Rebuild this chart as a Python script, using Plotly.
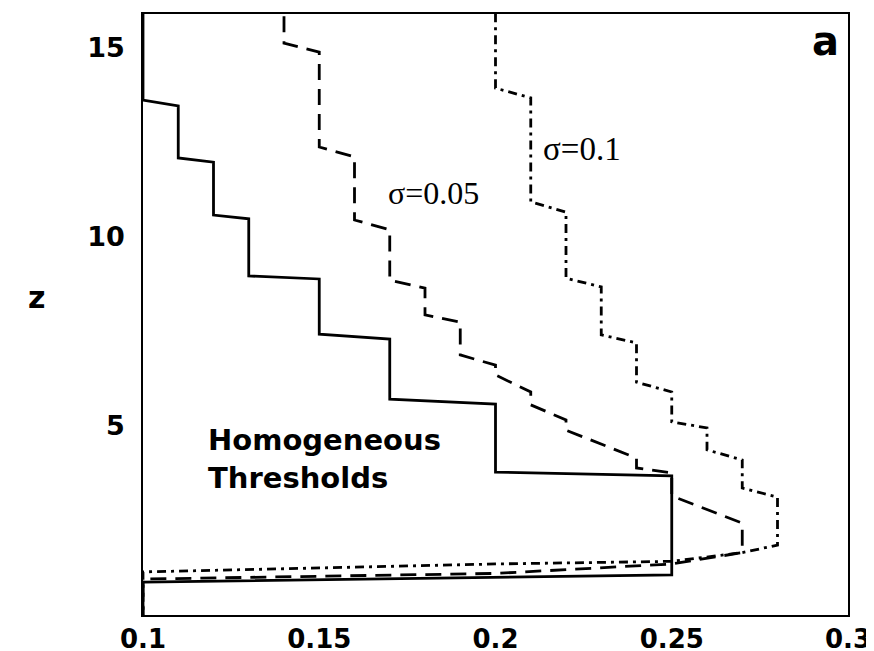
import plotly.graph_objects as go

# Homogeneous thresholds (solid)
x_homog = [0.1, 0.1, 0.11, 0.11, 0.12, 0.12, 0.13, 0.13, 0.15, 0.15, 0.17, 0.17,
           0.2, 0.2, 0.25, 0.25, 0.1, 0.1]
z_homog = [16.5, 13.62, 13.47, 12.09, 11.98, 10.58, 10.48, 8.97, 8.89, 7.43, 7.30, 5.71,
           5.58, 3.78, 3.68, 1.06, 0.87, 0.0]

# sigma = 0.05 (dashed)
x_s005 = [0.14, 0.14, 0.15, 0.15, 0.16, 0.16, 0.17, 0.17, 0.18, 0.18, 0.19, 0.19,
          0.2, 0.2, 0.21, 0.21, 0.22, 0.22, 0.24, 0.24, 0.25, 0.25, 0.27, 0.27,
          0.25, 0.2, 0.1, 0.1]
z_s005 = [16.5, 15.13, 14.89, 12.38, 12.12, 10.45, 10.19, 8.86, 8.65, 7.94, 7.75, 6.88,
          6.61, 6.35, 5.90, 5.56, 5.16, 4.89, 4.15, 3.89, 3.76, 3.15, 2.43, 1.65,
          1.35, 1.10, 0.95, 0.0]

# sigma = 0.1 (dash-dot)
x_s01 = [0.2, 0.2, 0.21, 0.21, 0.22, 0.22, 0.23, 0.23, 0.24, 0.24, 0.25, 0.25,
         0.26, 0.26, 0.27, 0.27, 0.28, 0.28, 0.27, 0.25, 0.2, 0.1, 0.1]
z_s01 = [16.5, 13.94, 13.68, 10.93, 10.66, 8.91, 8.68, 7.41, 7.20, 6.16, 5.90, 5.11,
         4.95, 4.37, 4.10, 3.36, 3.12, 1.85, 1.65, 1.42, 1.35, 1.14, 0.0]

x_ticks = [0.1, 0.15, 0.2, 0.25, 0.3]
x_ticklabels = ["0.1", "0.15", "0.2", "0.25", "0.3"]
z_ticks = [5, 10, 15]
z_ticklabels = ["5", "10", "15"]

fig = go.Figure()
fig.add_trace(go.Scatter(x=x_homog, y=z_homog, mode="lines",
                         line=dict(color="black", width=2.8), name="Homogeneous"))
fig.add_trace(go.Scatter(x=x_s005, y=z_s005, mode="lines",
                         line=dict(color="black", width=2.8, dash="16px,9px"), name="σ=0.05"))
fig.add_trace(go.Scatter(x=x_s01, y=z_s01, mode="lines",
                         line=dict(color="black", width=2.8, dash="9px,5px,3px,5px"), name="σ=0.1"))

tick_font_x = dict(family="DejaVu Sans", size=26, color="black", weight="bold")
tick_font_y = dict(family="DejaVu Sans", size=27, color="black", weight="bold")

# page body adds an ~8px offset; size/margins compensate so the plot box sits at 143..848 x 14..615
fig.update_layout(
    width=866, height=651,
    margin=dict(l=135, r=26, t=6, b=44, autoexpand=False),
    paper_bgcolor="white", plot_bgcolor="white",
    showlegend=False,
    xaxis=dict(range=[0.1, 0.3], tickvals=x_ticks, ticktext=x_ticklabels,
               showgrid=False, zeroline=False, showline=True, mirror=True,
               linecolor="black", linewidth=1.5, ticks="", tickfont=tick_font_x,
               ticklabelstandoff=0, automargin=False),
    yaxis=dict(range=[0, 15.9], tickvals=z_ticks, ticktext=z_ticklabels,
               showgrid=False, zeroline=False, showline=True, mirror=True,
               linecolor="black", linewidth=1.5, ticks="", tickfont=tick_font_y,
               ticklabelstandoff=11, automargin=False),
)

fig.add_annotation(x=-0.166, y=0.529, xref="paper", yref="paper", text="<b>z</b>",
                   showarrow=False, font=dict(family="DejaVu Sans", size=30, color="black"))
fig.add_annotation(x=0.99, y=0.997, xref="paper", yref="paper", text="<b>a</b>",
                   showarrow=False, xanchor="right", yanchor="top",
                   font=dict(family="DejaVu Sans", size=40, color="black"))
fig.add_annotation(x=0.1823, y=11.16, text="σ=0.05", showarrow=False,
                   font=dict(family="Liberation Serif", size=32, color="black"))
fig.add_annotation(x=0.2245, y=12.33, text="σ=0.1", showarrow=False,
                   font=dict(family="Liberation Serif", size=33, color="black"))
fig.add_annotation(x=0.118, y=4.13, text="<b>Homogeneous<br>Thresholds</b>", showarrow=False,
                   xanchor="left", align="left",
                   font=dict(family="DejaVu Sans", size=29, color="black"))

fig.write_html("out.html")
